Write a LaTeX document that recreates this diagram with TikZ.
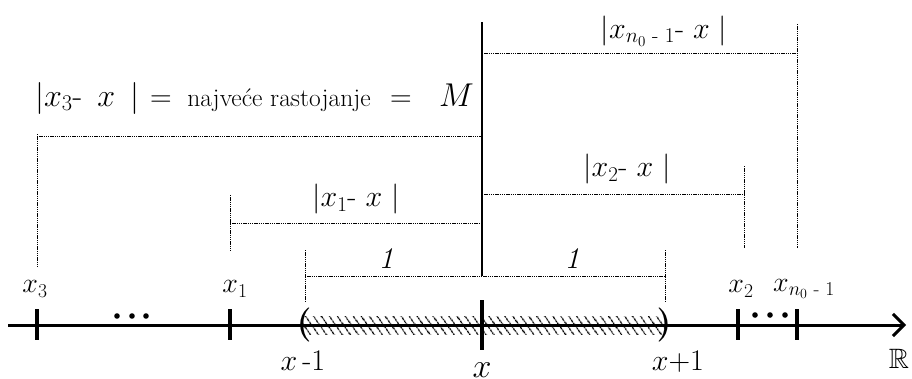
\RequirePackage{fix-cm}
\documentclass[tikz,border=0pt]{standalone}
\usepackage{amsmath,amssymb}
\usepackage{fontspec}
\usetikzlibrary{arrows.meta,patterns.meta}
\begin{document}
\begin{tikzpicture}[x=1pt,y=-1pt,
  dimline/.style={line width=0.8pt,dash pattern=on 1.3pt off 0.9pt},
  tickmark/.style={line width=3.6pt},
  axlab/.style={inner sep=0pt,font=\fontsize{28}{30}\selectfont},
  dimlab/.style={inner sep=0pt,font=\fontsize{30}{32}\selectfont},
  paren/.style={inner sep=0pt,font=\fontsize{34}{36}\selectfont\bfseries},
  dotmark/.style={fill=black,draw=none}]
\useasboundingbox (0,0) rectangle (912,378);
% hatched interval
\path[pattern={Lines[angle=-55,distance=6.5pt,line width=1.4pt]}] (303,316) rectangle (665,334);
% axis
\coordinate (A0) at (8,325);
\coordinate (A1) at (906,325);
\draw[line width=3pt,-{Straight Barb[length=11pt,width=22pt,line width=3pt]}] (A0) -- (A1);
% ticks
\draw[tickmark] (37,309) -- (37,340);
\draw[tickmark] (230,309) -- (230,340);
\draw[tickmark] (482,300) -- (482,350);
\draw[tickmark] (738,309) -- (738,340);
\draw[tickmark] (797,309) -- (797,340);
% dots
\foreach \px in {117,132,146} \fill[dotmark] (\px,316) circle (2.8);
\foreach \px in {755,770,785} \fill[dotmark] (\px,315) circle (2.8);
% parentheses
\node[paren] (lp) at (304,325) {(};
\node[paren] (rp) at (664,325) {)};
% main vertical
\coordinate (Vtop) at (482,22);
\coordinate (Vbot) at (482,276);
\draw[line width=1.6pt] (Vtop) -- (Vbot);
% dimension lines
\coordinate (H1a) at (305,276); \coordinate (H1b) at (665,276);
\draw[dimline] (305,250) -- (305,302);
\draw[dimline] (665,250) -- (665,302);
\draw[dimline] (H1a) -- (H1b);
\coordinate (D1a) at (230,223); \coordinate (D1b) at (482,223);
\draw[dimline] (230,195) -- (230,252);
\draw[dimline] (D1a) -- (D1b);
\coordinate (D2a) at (482,194); \coordinate (D2b) at (744,194);
\draw[dimline] (744,166) -- (744,248);
\draw[dimline] (D2a) -- (D2b);
\coordinate (D3a) at (37,136); \coordinate (D3b) at (482,136);
\draw[dimline] (37,134) -- (37,267);
\draw[dimline] (D3a) -- (D3b);
\coordinate (D4a) at (482,53); \coordinate (D4b) at (797,53);
\draw[dimline] (797,24) -- (797,248);
\draw[dimline] (D4a) -- (D4b);
% axis labels
\node[axlab] (lx3) at (35,289) {$x_3$};
\node[axlab] (lx1) at (235,289) {$x_1$};
\node[axlab] (lx2) at (741,289) {$x_2$};
\node[axlab] (lxn) at (804,289) {$x_{n_0\text{ - }1}$};
\node[axlab,font=\fontsize{30}{30}\selectfont] (lxm) at (303,361) {$x$\,-1};
\node[axlab,font=\fontsize{34}{36}\selectfont,anchor=base] (lx) at (482,377) {$x$};
\node[axlab,font=\fontsize{30}{30}\selectfont] (lxp) at (678,362) {$x{+}1$};
\node[axlab,font=\fontsize{28}{30}\selectfont] (lR) at (899,359) {$\mathbb{R}$};
% dimension labels
\node[axlab,font=\fontsize{30}{30}\selectfont] (one1) at (386,259) {\textit{1}};
\node[axlab,font=\fontsize{30}{30}\selectfont] (one2) at (572,259) {\textit{1}};
\node[dimlab] (l1) at (356,199) {$|x_1\text{- }x\ |$};
\node[dimlab] (l2) at (627,169) {$|x_2\text{- }x\ |$};
\node[dimlab] (l4) at (664,31) {$|x_{n_0\text{ - }1}\text{- }x\ |$};
\node[dimlab,font=\fontsize{32}{32}\selectfont,anchor=base west] (l3a) at (35,106) {$|x_3\text{- }\,x\ \,|$};
\node[dimlab,anchor=base] (l3e1) at (161,106) {$=$};
\node[dimlab,font=\fontsize{25.5}{30}\selectfont,anchor=base] (l3b) at (279,106) {najveće rastojanje};
\node[dimlab,anchor=base] (l3e2) at (401,106) {$=$};
\node[dimlab,font=\fontsize{33}{34}\selectfont,anchor=base east] (l3c) at (474,106) {$M$};
\end{tikzpicture}
\end{document}
